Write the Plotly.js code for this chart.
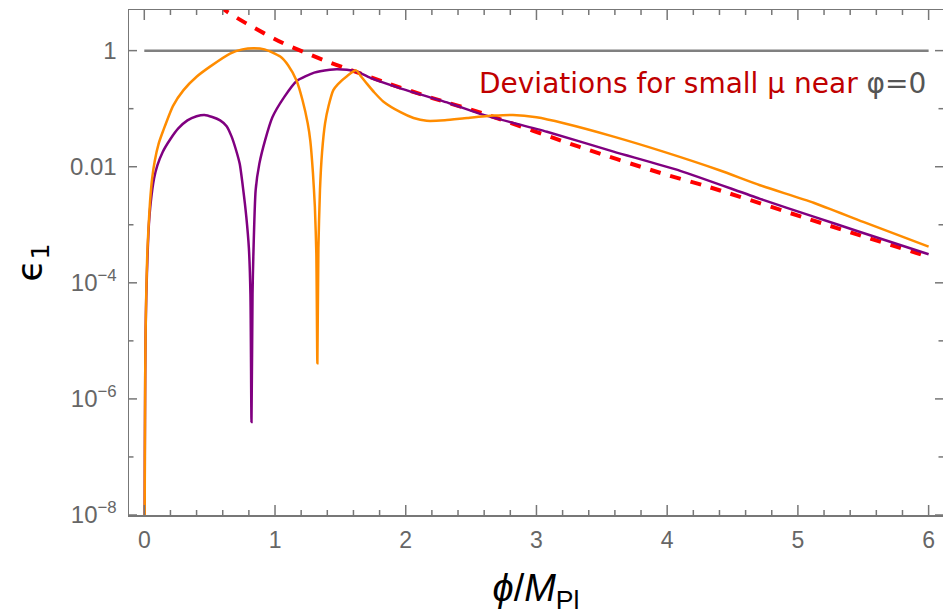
<!DOCTYPE html>
<html>
<head>
<meta charset="utf-8">
<script src="https://cdn.plot.ly/plotly-3.0.1.min.js"></script>
<style>html,body{margin:0;padding:0;background:#fff;}#chart{width:943px;height:615px;}</style>
</head>
<body>
<div id="chart"></div>
<script>
// phi / M_Pl values and epsilon_1 values
const purplePhi = [0.002,0.004,0.007,0.010,0.015,0.020,0.027,0.035,0.050,0.075,0.10,0.14,0.20,0.26,0.33,0.40,0.46,0.52,0.58,0.63,0.668,0.70,0.73,0.757,0.78,0.80,0.812,0.82,0.828,0.834,0.852,0.88,0.925,0.98,1.07,1.166,1.30,1.42,1.47,1.55,1.625,1.73,1.96,2.34,2.59,3.08,3.59,4.10,4.71,5.12,5.47,6.0];
const purpleEps = [2.5e-9,1e-7,2.5e-6,1.4e-5,5.6e-5,1.4e-4,4e-4,1e-3,2.5e-3,6.3e-3,0.0105,0.0178,0.030,0.0457,0.063,0.074,0.078,0.072,0.063,0.050,0.033,0.020,0.0112,4.0e-3,1.4e-3,4e-4,6.3e-5,4e-7,6.3e-5,2.8e-4,4e-3,0.0112,0.029,0.071,0.158,0.30,0.417,0.468,0.479,0.468,0.437,0.339,0.224,0.123,0.079,0.040,0.0182,8.5e-3,2.8e-3,1.38e-3,7.6e-4,3.1e-4];

const orangePhi = [0.002,0.004,0.007,0.010,0.014,0.018,0.023,0.031,0.044,0.06,0.08,0.11,0.145,0.22,0.30,0.40,0.50,0.656,0.75,0.834,0.92,1.04,1.10,1.166,1.21,1.25,1.27,1.29,1.305,1.316,1.324,1.332,1.344,1.36,1.383,1.41,1.446,1.48,1.55,1.62,1.66,1.70,1.76,1.83,1.96,2.06,2.16,2.30,2.47,2.67,2.82,3.00,3.21,3.59,3.97,4.40,4.71,5.12,5.50,6.0];
const orangeEps = [1.6e-9,6.3e-8,2.5e-6,1.4e-5,5e-5,1.26e-4,3.2e-4,7.9e-4,2.5e-3,6.3e-3,0.0126,0.025,0.042,0.112,0.209,0.355,0.525,0.89,1.05,1.10,1.05,0.79,0.56,0.30,0.141,0.056,0.028,7.9e-3,2e-3,3.2e-4,4.1e-6,4e-4,4e-3,0.0178,0.056,0.112,0.209,0.263,0.363,0.457,0.355,0.275,0.19,0.132,0.087,0.069,0.0617,0.063,0.069,0.076,0.078,0.071,0.056,0.033,0.0182,8.7e-3,4.8e-3,2.4e-3,1.12e-3,4.2e-4];

const redPhi = [0.58,0.617,0.78,1.06,1.217,1.37,1.55,1.83,2.21,2.59,3.33,3.95,4.33,5.19,6.0];
const redEps = [6.0,5.0,2.95,1.35,0.955,0.69,0.49,0.29,0.151,0.083,0.0219,7.8e-3,4.4e-3,1.05e-3,2.8e-4];

const grayPhi = [0, 6];
const grayEps = [1, 1];

// tick positions and labels
const xTickVals = [0, 1, 2, 3, 4, 5, 6];
const xMinorVals = [0.2,0.4,0.6,0.8,1.2,1.4,1.6,1.8,2.2,2.4,2.6,2.8,3.2,3.4,3.6,3.8,4.2,4.4,4.6,4.8,5.2,5.4,5.6,5.8];
const yTickVals = [1e-8, 1e-6, 1e-4, 1e-2, 1];
const yTickText = ['10<sup>−8</sup>', '10<sup>−6</sup>', '10<sup>−4</sup>', '0.01', '1'];
const yMinorVals = [1e-7, 1e-5, 1e-3, 1e-1];

const annotationText = '<span style="color:#c00000">Deviations for small μ near </span><span style="color:#555555">φ=0</span>';

const axisColor = '#777777';
const xTickFont = {family: 'Liberation Sans, Arial, sans-serif', size: 23, color: '#666666'};
const yTickFont = {family: 'Liberation Sans, Arial, sans-serif', size: 24, color: '#666666'};

// plot-area size in px, used only to turn tick lengths into paper fractions
const plotW = 943 - 129, plotH = 615 - 10 - 100;

function xTicks(vals, len) {
  const f = len / plotH;
  const s = [];
  vals.forEach(function (v) {
    s.push({type: 'line', xref: 'x', yref: 'paper', x0: v, x1: v, y0: 0, y1: f, line: {color: axisColor, width: 1.5}});
    s.push({type: 'line', xref: 'x', yref: 'paper', x0: v, x1: v, y0: 1, y1: 1 - f, line: {color: axisColor, width: 1.5}});
  });
  return s;
}
function yTicks(vals, len) {
  const f = len / plotW;
  const s = [];
  vals.forEach(function (v) {
    s.push({type: 'line', xref: 'paper', yref: 'y', x0: 0, x1: f, y0: v, y1: v, line: {color: axisColor, width: 1.5}});
    s.push({type: 'line', xref: 'paper', yref: 'y', x0: 1, x1: 1 - f, y0: v, y1: v, line: {color: axisColor, width: 1.5}});
  });
  return s;
}
const tickShapes = [].concat(xTicks(xTickVals, 10), xTicks(xMinorVals, 5), yTicks(yTickVals, 8), yTicks(yMinorVals, 4.5));

const traces = [
  {x: grayPhi, y: grayEps, mode: 'lines', line: {color: '#808080', width: 2.5}},
  {x: redPhi, y: redEps, mode: 'lines', line: {color: '#ff0000', width: 4, dash: '11px,10px', shape: 'spline', smoothing: 0.8}},
  {x: purplePhi, y: purpleEps, mode: 'lines', line: {color: '#800080', width: 2.5, shape: 'spline', smoothing: 0.6}},
  {x: orangePhi, y: orangeEps, mode: 'lines', line: {color: '#ff8c00', width: 2.5, shape: 'spline', smoothing: 0.6}}
];

const layout = {
  width: 943, height: 615,
  margin: {l: 129, r: 0, t: 10, b: 100},
  showlegend: false,
  xaxis: {
    range: [-0.117, 6.11], showgrid: false, zeroline: false,
    showline: true, linecolor: axisColor, linewidth: 1.5, mirror: true,
    ticks: '', tickmode: 'array', tickvals: xTickVals, tickfont: xTickFont, ticklabelstandoff: 4,
    title: {text: '<i>ϕ</i>/<i>M</i><sub>Pl</sub>', font: {family: 'Liberation Sans, Arial, sans-serif', size: 38, color: '#000000'}, standoff: 22}
  },
  yaxis: {
    type: 'log', range: [-8, 0.70], showgrid: false, zeroline: false,
    showline: true, linecolor: axisColor, linewidth: 1.5, mirror: true,
    ticks: '', tickmode: 'array', tickvals: yTickVals, ticktext: yTickText, tickfont: yTickFont, ticklabelstandoff: 6
  },
  shapes: tickShapes,
  annotations: [
    {
      xref: 'paper', yref: 'paper', x: 0.9816, y: 0.8535, xanchor: 'right', yanchor: 'middle',
      text: annotationText, showarrow: false,
      font: {family: 'DejaVu Sans, sans-serif', size: 28, color: '#c00000'}
    },
    {
      xref: 'paper', yref: 'paper', x: -0.119, y: 0.5, xanchor: 'center', yanchor: 'middle',
      text: 'ϵ<sub>1</sub>', textangle: -90, showarrow: false,
      font: {family: 'DejaVu Sans, sans-serif', size: 36, color: '#000000'}
    }
  ]
};

Plotly.newPlot('chart', traces, layout, {displayModeBar: false, staticPlot: true});
</script>
</body>
</html>
